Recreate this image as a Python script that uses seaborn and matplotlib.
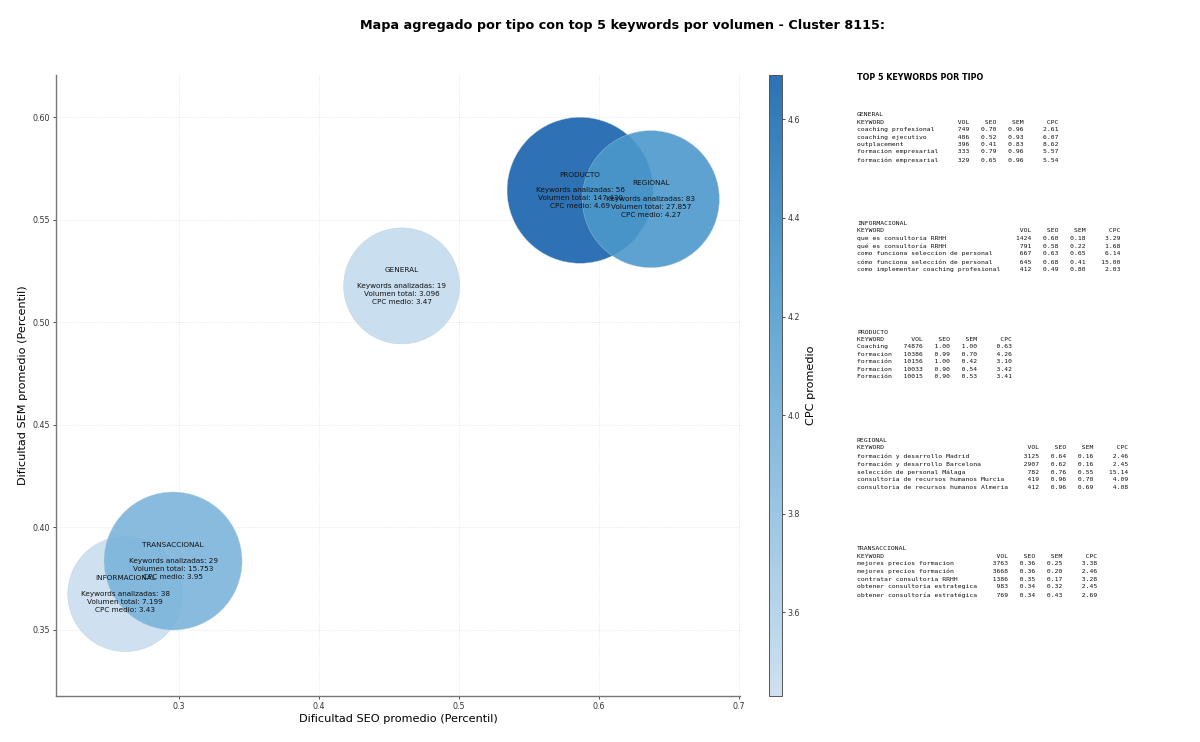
# plot.py
# Mapa agregado por tipo de keyword (burbujas) + tabla con top 5 keywords

import pandas as pd
import seaborn as sns
import matplotlib
matplotlib.use("Agg")
import matplotlib.pyplot as plt
from matplotlib.cm import ScalarMappable
from matplotlib.colors import LinearSegmentedColormap, Normalize

# 1. Datos agregados
tipos = ["GENERAL", "INFORMACIONAL", "PRODUCTO", "REGIONAL", "TRANSACCIONAL"]
seo_medio = [0.459, 0.2616, 0.5865, 0.637, 0.2957]
sem_medio = [0.5177, 0.3675, 0.5643, 0.560, 0.3836]
cpc_medio = [3.47, 3.43, 4.69, 4.27, 3.95]
n_keywords = [19, 38, 56, 83, 29]
volumen = ["3.096", "7.199", "147.430", "27.857", "15.753"]

# 2. Top 5 por tipo: (keyword, vol, seo, sem, cpc)
top_general = [
    ("coaching profesional", 749, 0.70, 0.96, 2.61),
    ("coaching ejecutivo", 486, 0.52, 0.93, 6.07),
    ("outplacement", 396, 0.41, 0.83, 8.62),
    ("formacion empresarial", 333, 0.79, 0.96, 5.57),
    ("formación empresarial", 329, 0.65, 0.96, 5.54),
]
top_informacional = [
    ("que es consultoria RRHH", 1424, 0.60, 0.18, 3.29),
    ("qué es consultoría RRHH", 791, 0.58, 0.22, 1.68),
    ("como funciona seleccion de personal", 667, 0.63, 0.65, 6.14),
    ("cómo funciona selección de personal", 645, 0.68, 0.41, 15.00),
    ("como implementar coaching profesional", 412, 0.49, 0.80, 2.03),
]
top_producto = [
    ("Coaching", 74876, 1.00, 1.00, 0.63),
    ("formacion", 10386, 0.99, 0.70, 4.26),
    ("formación", 10156, 1.00, 0.42, 3.10),
    ("Formacion", 10033, 0.90, 0.54, 3.42),
    ("Formación", 10015, 0.90, 0.53, 3.41),
]
top_regional = [
    ("formación y desarrollo Madrid", 3125, 0.64, 0.16, 2.46),
    ("formación y desarrollo Barcelona", 2907, 0.62, 0.16, 2.45),
    ("selección de personal Málaga", 782, 0.76, 0.55, 15.14),
    ("consultoria de recursos humanos Murcia", 419, 0.96, 0.70, 4.09),
    ("consultoria de recursos humanos Almeria", 412, 0.96, 0.69, 4.08),
]
top_transaccional = [
    ("mejores precios formacion", 3763, 0.36, 0.25, 3.38),
    ("mejores precios formación", 3668, 0.36, 0.20, 2.46),
    ("contratar consultoria RRHH", 1386, 0.35, 0.17, 3.28),
    ("obtener consultoria estrategica", 983, 0.34, 0.32, 2.45),
    ("obtener consultoría estratégica", 769, 0.34, 0.43, 2.69),
]
tablas = [top_general, top_informacional, top_producto, top_regional, top_transaccional]

df = pd.DataFrame({"tipo": tipos, "seo": seo_medio, "sem": sem_medio, "cpc": cpc_medio})

# 3. Figura
sns.set_style("white")
plt.rcParams["font.family"] = ["DejaVu Sans"]
plt.rcParams["text.color"] = "black"
plt.rcParams["axes.labelcolor"] = "black"
plt.rcParams["xtick.color"] = "#333333"
plt.rcParams["ytick.color"] = "#333333"
fig = plt.figure(figsize=(12, 7.42), dpi=100)
ax = fig.add_axes([56 / 1200, 1 - 696 / 742, 684 / 1200, 621 / 742])
cax = fig.add_axes([769 / 1200, 1 - 696 / 742, 13 / 1200, 621 / 742])

cmap = LinearSegmentedColormap.from_list(
    "azules", [(0, "#cadeef"), (0.41, "#7bb4db"), (0.67, "#4a98cb"), (1, "#1762ac")])
norm = Normalize(vmin=min(cpc_medio), vmax=max(cpc_medio))

# area de cada burbuja en pt^2 (radio en px * 0.72 * 2)^2
radios = dict(zip(tipos, [58, 57.5, 73, 68.5, 69]))
areas = {t: (2 * r * 0.72) ** 2 for t, r in radios.items()}

sns.scatterplot(data=df, x="seo", y="sem", hue="cpc", palette=cmap, hue_norm=norm,
                size="tipo", sizes=areas, alpha=0.9, edgecolor="#b5cbdd", linewidth=0.3,
                legend=False, ax=ax, zorder=3)

for i, t in enumerate(tipos):
    etiqueta = f"{t}\n\nKeywords analizadas: {n_keywords[i]}\nVolumen total: {volumen[i]}\nCPC medio: {cpc_medio[i]:.2f}"
    ax.text(seo_medio[i], sem_medio[i], etiqueta, ha="center", va="center", fontsize=5.2,
            color="#111111", linespacing=1.37, zorder=5)

ax.set_xlim(0.2121, 0.7007)
ax.set_ylim(0.3178, 0.6205)
ax.set_xticks([0.3, 0.4, 0.5, 0.6, 0.7])
ax.set_yticks([0.35, 0.40, 0.45, 0.50, 0.55, 0.60])
ax.set_yticklabels(["0.35", "0.40", "0.45", "0.50", "0.55", "0.60"])
ax.tick_params(labelsize=5.7, length=2, width=0.6, left=True, bottom=True, pad=2)
ax.set_xlabel("Dificultad SEO promedio (Percentil)", fontsize=8.1, labelpad=2.5)
ax.set_ylabel("Dificultad SEM promedio (Percentil)", fontsize=8.1, labelpad=3.5)
ax.grid(True, linestyle=":", linewidth=0.5, color="#cccccc", alpha=0.7)
ax.set_axisbelow(True)
sns.despine(ax=ax)
for lado in ["left", "bottom"]:
    ax.spines[lado].set_color("#777777")
    ax.spines[lado].set_linewidth(1.0)

# 4. Barra de color
sm = ScalarMappable(norm=norm, cmap=cmap)
cbar = fig.colorbar(sm, cax=cax, alpha=0.9)
cbar.set_ticks([3.6, 3.8, 4.0, 4.2, 4.4, 4.6])
cbar.ax.tick_params(labelsize=5.7, length=2, width=0.6, right=True, pad=2)
cbar.set_label("CPC promedio", fontsize=8.1, labelpad=4)
cbar.outline.set_edgecolor("#555555")
cbar.outline.set_linewidth(0.7)

# 5. Titulo y tablas de texto
fig.text(623 / 1200, 1 - 26 / 742, "Mapa agregado por tipo con top 5 keywords por volumen - Cluster 8115:",
         ha="center", va="center", fontsize=9.16, fontweight="bold")
fig.text(857 / 1200, 1 - 78 / 742, "TOP 5 KEYWORDS POR TIPO", ha="left", va="center",
         fontsize=5.75, fontweight="bold")

y_bloque = [112.5, 221, 329.5, 438, 546.5]
for t, filas, y in zip(tipos, tablas, y_bloque):
    w = max(len(f[0]) for f in filas)
    lineas = [t, f"{'KEYWORD':<{w}}{'VOL':>8}{'SEO':>7}{'SEM':>7}{'CPC':>9}"]
    for kw, vol, seo, sem, cpc in filas:
        lineas.append(f"{kw:<{w}}{vol:>8}{seo:>7.2f}{sem:>7.2f}{cpc:>9.2f}")
    fig.text(857 / 1200, 1 - y / 742, "\n".join(lineas), ha="left", va="top",
             fontsize=4.6, family="DejaVu Sans Mono", linespacing=1.6, color="#111111")

fig.savefig("out.png", dpi=100)
